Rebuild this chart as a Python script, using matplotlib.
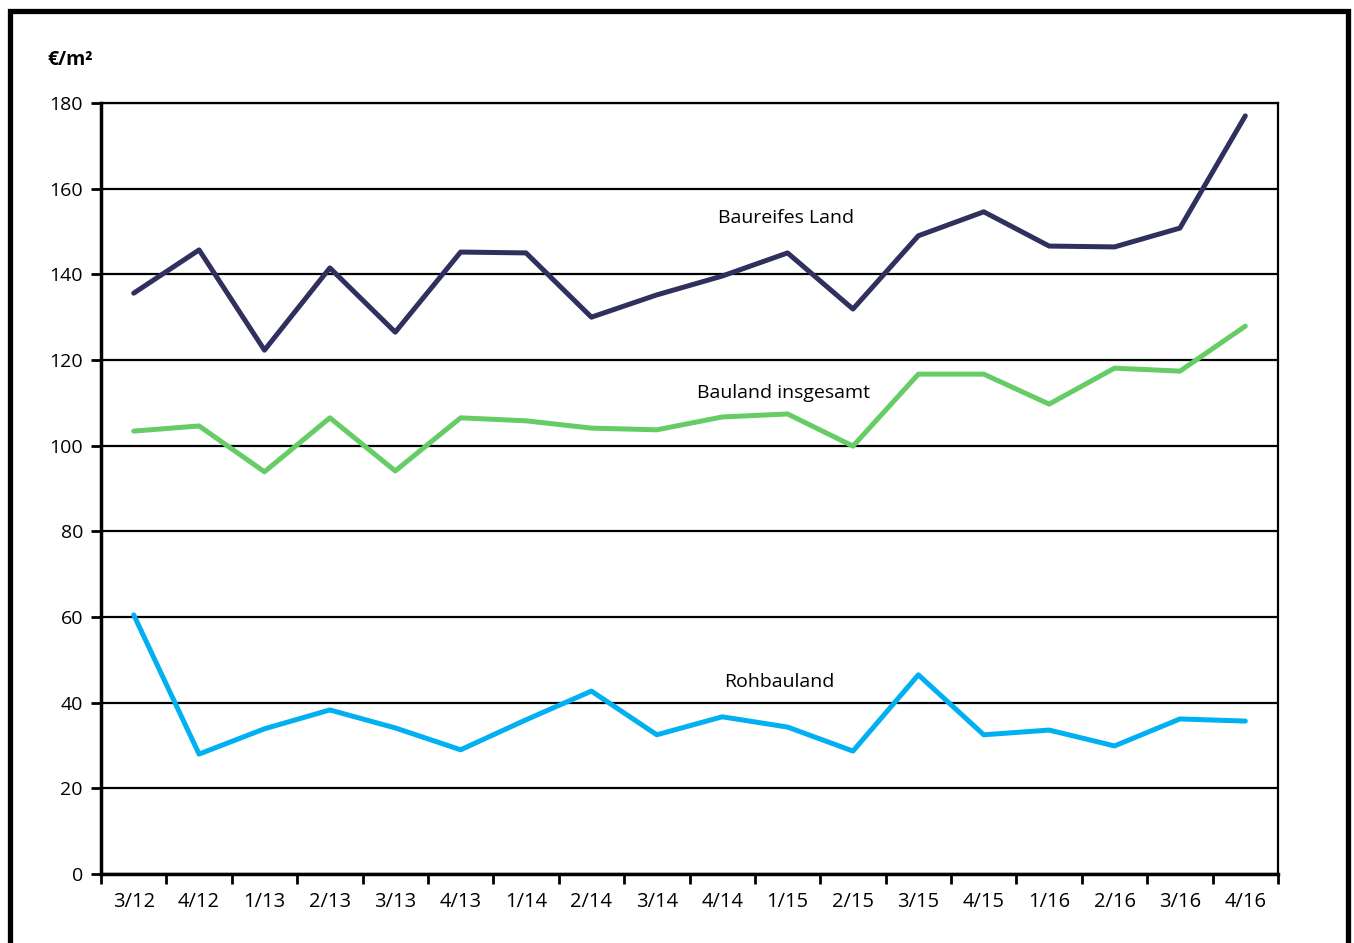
import matplotlib
matplotlib.use("Agg")
import matplotlib.pyplot as plt
from matplotlib.patches import Rectangle

plt.rcParams['font.family'] = ['Open Sans', 'DejaVu Sans']

quarters = ['3/12', '4/12', '1/13', '2/13', '3/13', '4/13', '1/14', '2/14', '3/14',
            '4/14', '1/15', '2/15', '3/15', '4/15', '1/16', '2/16', '3/16', '4/16']

baureif = [135.6, 145.7, 122.3, 141.5, 126.5, 145.2, 145.0, 130.0, 135.2,
           139.6, 145.0, 131.9, 149.0, 154.6, 146.6, 146.4, 150.8, 177.0]
bauland = [103.4, 104.6, 93.9, 106.5, 94.1, 106.5, 105.8, 104.1, 103.7,
           106.7, 107.4, 99.9, 116.7, 116.7, 109.7, 118.1, 117.4, 127.9]
rohbau = [60.5, 28.0, 33.9, 38.3, 34.1, 29.0, 36.0, 42.7, 32.5,
          36.7, 34.3, 28.7, 46.5, 32.5, 33.6, 29.9, 36.2, 35.7]

fig = plt.figure(figsize=(13.54, 9.43), dpi=100)
ax = fig.add_axes([101/1354, 69/943, 1177/1354, 771/943])

x = range(len(quarters))
ax.plot(x, baureif, color='#30305e', lw=3.6, solid_capstyle='round', zorder=5)
ax.plot(x, bauland, color='#66cc66', lw=3.6, solid_capstyle='round', zorder=5)
ax.plot(x, rohbau, color='#00b0f0', lw=3.6, solid_capstyle='round', zorder=5)

ax.set_xlim(-0.5, len(quarters) - 0.5)
ax.set_ylim(0, 180)
ax.set_yticks(range(0, 181, 20))
ax.yaxis.grid(True, color='black', lw=1.6)
ax.set_axisbelow(True)

# category ticks at the boundaries, labels in the middle
ax.set_xticks([i - 0.5 for i in range(len(quarters) + 1)])
ax.set_xticklabels([])
ax.set_xticks(list(x), minor=True)
ax.set_xticklabels(quarters, minor=True, fontsize=14.5)
ax.tick_params(axis='x', which='major', direction='out', length=7, width=2)
ax.tick_params(axis='x', which='minor', length=0, pad=13)
ax.tick_params(axis='y', direction='out', length=7, width=2, labelsize=14, pad=6)

for s in ['left', 'bottom']:
    ax.spines[s].set_linewidth(2.5)
for s in ['top', 'right']:
    ax.spines[s].set_linewidth(1.6)

ax.text(9.98, 153.2, 'Baureifes Land', ha='center', va='center', fontsize=14)
ax.text(9.93, 112.3, 'Bauland insgesamt', ha='center', va='center', fontsize=14)
ax.text(9.88, 44.8, 'Rohbauland', ha='center', va='center', fontsize=14)

fig.text(47/1354, 1 - 60/943, '€/m²', ha='left', va='center', fontsize=14, fontweight='bold')

fig.patches.append(Rectangle((10/1354, -0.05), 1338/1354, 1.05 - 11/943,
                             transform=fig.transFigure, fill=False, ec='black', lw=3.8))

fig.savefig('out.png', dpi=100)
